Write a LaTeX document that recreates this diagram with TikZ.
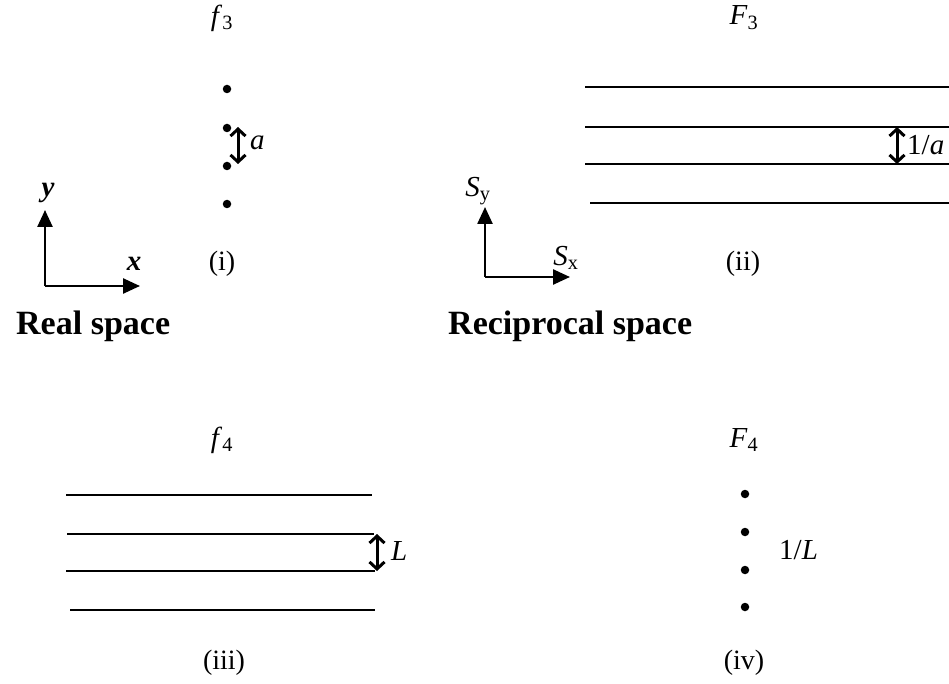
\documentclass[tikz,border=0pt]{standalone}
\usepackage{fontspec}
\setmainfont{Liberation Serif}
\usetikzlibrary{arrows.meta}
\begin{document}
\begin{tikzpicture}[
  x=1pt, y=-1pt,
  every node/.style={inner sep=0pt, font=\fontsize{29}{31}\selectfont},
  atom/.style={circle, fill, minimum size=8.5pt, inner sep=0pt},
  caption/.style={font=\fontsize{28}{30}\selectfont},
  heading/.style={font=\fontsize{34}{36}\selectfont\bfseries, anchor=base west},
  plane/.style={line width=2pt},
  axis/.style={line width=2.5pt, -{Triangle[length=17pt, width=15pt]}},
  gap/.style={line width=3pt, {Straight Barb[length=7pt, width=15pt]}-{Straight Barb[length=7pt, width=15pt]}}
]
\useasboundingbox (0,0) rectangle (949,684);

% real space axes
\coordinate (o1) at (45,286);
\coordinate (ry) at (45,210);
\coordinate (rx) at (140,286);
\draw[axis] (o1) -- (ry);
\draw[axis] (o1) -- (rx);
\node (ylab) at (48,193) {\textbf{\textit{y}}};
\node (xlab) at (134,264) {\textbf{\textit{x}}};
\node[heading] (real) at (16,334) {Real space};

% (i) row of points
\node (f3) at (222,18) {\textit{f}\textsubscript{3}};
\foreach \y [count=\i] in {89,128,166,204}
  \node[atom] (p\i) at (227,\y) {};
\coordinate (a1) at (238,127);
\coordinate (a2) at (238,164);
\draw[gap] (a1) -- (a2);
\node[anchor=west] (alab) at (250,143) {\textit{a}};
\node[caption] (i) at (222,264) {(i)};

% reciprocal space axes
\coordinate (o2) at (485,277);
\coordinate (sy) at (485,207);
\coordinate (sx) at (570,277);
\draw[axis] (o2) -- (sy);
\draw[axis] (o2) -- (sx);
\node (sylab) at (478,191) {\textit{S}\textsubscript{y}};
\node (sxlab) at (566,258) {\textit{S}\textsubscript{x}};
\node[heading] (recip) at (448,334) {Reciprocal space};

% (ii) set of lines
\node (F3) at (744,18) {\textit{F}\textsubscript{3}};
\foreach \y/\s [count=\i] in {87/585,127/585,164/585,203/590} {
  \coordinate (l\i) at (\s,\y);
  \coordinate (r\i) at (949,\y);
  \draw[plane] (l\i) -- (r\i);
}
\coordinate (b1) at (897,127);
\coordinate (b2) at (897,164);
\draw[gap] (b1) -- (b2);
\node[anchor=west] (blab) at (907,145) {1/\textit{a}};
\node[caption] (ii) at (743,264) {(ii)};

% (iii) set of lines
\node (f4) at (222,440) {\textit{f}\textsubscript{4}};
\foreach \y/\s/\e [count=\i] in {495/66/372,534/67/374,571/66/375,610/70/375} {
  \coordinate (m\i) at (\s,\y);
  \coordinate (n\i) at (\e,\y);
  \draw[plane] (m\i) -- (n\i);
}
\coordinate (c1) at (377,534);
\coordinate (c2) at (377,571);
\draw[gap] (c1) -- (c2);
\node[anchor=west] (clab) at (391,551) {\textit{L}};
\node[caption] (iii) at (224,663) {(iii)};

% (iv) row of points
\node (F4) at (744,440) {\textit{F}\textsubscript{4}};
\foreach \y [count=\i] in {494,532,570,607}
  \node[atom] (q\i) at (745,\y) {};
\node[anchor=west] (dlab) at (779,550) {1/\textit{L}};
\node[caption] (iv) at (744,663) {(iv)};
\end{tikzpicture}
\end{document}
